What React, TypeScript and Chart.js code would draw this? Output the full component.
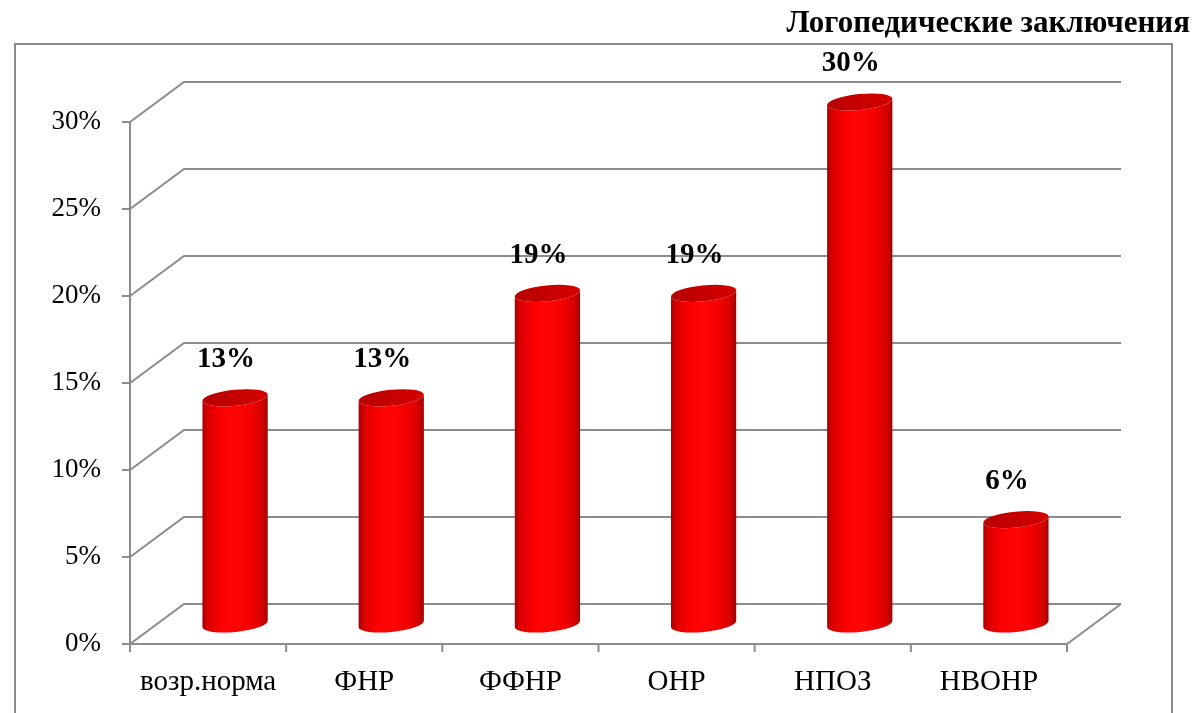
import React, { useEffect, useRef } from 'react';
import { Chart, registerables } from 'chart.js';

Chart.register(...registerables);

const categories = ['возр.норма', 'ФНР', 'ФФНР', 'ОНР', 'НПОЗ', 'НВОНР'];
const values = [13, 13, 19, 19, 30, 6];
const valueLabels = ['13%', '13%', '19%', '19%', '30%', '6%'];
const yTicks = [0, 5, 10, 15, 20, 25, 30];
const chartTitle = 'Логопедические заключения';

const FONT = '"Liberation Serif", "Times New Roman", serif';
const DX = 54;
const DY = -40;
const GRID = '#8c8c8c';

const scene3d = {
  id: 'scene3d',
  beforeDraw(chart: any) {
    const ctx = chart.ctx;
    const { left, right, bottom } = chart.chartArea;
    const ys = chart.scales.y;
    const xs = chart.scales.x;
    ctx.save();
    ctx.fillStyle = '#ffffff';
    ctx.fillRect(0, 0, chart.width, chart.height);
    // outer frame
    ctx.strokeStyle = GRID;
    ctx.lineWidth = 2;
    ctx.strokeRect(15, 44, 1157, 720);
    // title
    ctx.fillStyle = '#000';
    ctx.font = `bold 31px ${FONT}`;
    ctx.textAlign = 'right';
    ctx.textBaseline = 'middle';
    ctx.fillText(chartTitle, 1190, 24);
    // perspective grid
    ctx.strokeStyle = GRID;
    ctx.lineWidth = 2;
    ctx.beginPath();
    for (const v of yTicks) {
      const py = ys.getPixelForValue(v);
      ctx.moveTo(left - 8, py);
      ctx.lineTo(left, py);
      ctx.lineTo(left + DX, py + DY);
      ctx.lineTo(right + DX, py + DY);
    }
    ctx.moveTo(left, ys.getPixelForValue(yTicks[yTicks.length - 1]));
    ctx.lineTo(left, bottom);
    ctx.lineTo(right, bottom);
    ctx.lineTo(right + DX, bottom + DY);
    const n = categories.length;
    const cw = (right - left) / n;
    for (let i = 0; i <= n; i++) {
      const px = i < n ? xs.getPixelForValue(i) - cw / 2 : xs.getPixelForValue(n - 1) + cw / 2;
      ctx.moveTo(px, bottom);
      ctx.lineTo(px, bottom + 8);
    }
    ctx.stroke();
    ctx.restore();
  },
  afterDatasetsDraw(chart: any) {
    const ctx = chart.ctx;
    const { left, right } = chart.chartArea;
    const ys = chart.scales.y;
    const xs = chart.scales.x;
    const n = categories.length;
    const cw = (right - left) / n;
    const rx = cw * 0.21;
    const ry = 8;
    const th = -0.1;
    const c = Math.cos(th);
    const s = Math.sin(th);
    ctx.save();
    values.forEach((v, i) => {
      const cx = xs.getPixelForValue(i) + DX / 2;
      const yTop = ys.getPixelForValue(v) + DY / 2;
      const yBot = ys.getPixelForValue(0) + DY / 2;
      const g = ctx.createLinearGradient(cx - rx, 0, cx + rx, 0);
      g.addColorStop(0, '#a80000');
      g.addColorStop(0.08, '#d80000');
      g.addColorStop(0.3, '#ff0000');
      g.addColorStop(0.5, '#ff0606');
      g.addColorStop(0.75, '#f20000');
      g.addColorStop(0.92, '#d20000');
      g.addColorStop(1, '#a40000');
      ctx.beginPath();
      ctx.moveTo(cx - rx * c, yTop - rx * s);
      ctx.lineTo(cx - rx * c, yBot - rx * s);
      ctx.ellipse(cx, yBot, rx, ry, th, Math.PI, 0, true);
      ctx.lineTo(cx + rx * c, yTop + rx * s);
      ctx.ellipse(cx, yTop, rx, ry, th, 0, Math.PI, false);
      ctx.closePath();
      ctx.fillStyle = g;
      ctx.fill();
      const gt = ctx.createLinearGradient(cx - rx, 0, cx + rx, 0);
      gt.addColorStop(0, '#b80000');
      gt.addColorStop(0.6, '#c80000');
      gt.addColorStop(1, '#d60000');
      ctx.beginPath();
      ctx.ellipse(cx, yTop, rx, ry, th, 0, Math.PI * 2);
      ctx.fillStyle = gt;
      ctx.fill();
      ctx.fillStyle = '#000';
      ctx.font = `bold 29px ${FONT}`;
      ctx.textAlign = 'center';
      ctx.textBaseline = 'middle';
      ctx.fillText(valueLabels[i], cx - 9, yTop - 38);
    });
    ctx.restore();
  },
};

export default function App() {
  const ref = useRef<HTMLCanvasElement>(null);
  useEffect(() => {
    document.body.style.margin = '0';
    const chart = new Chart(ref.current as HTMLCanvasElement, {
      type: 'bar',
      data: {
        labels: categories,
        datasets: [
          {
            data: values,
            backgroundColor: 'rgba(0,0,0,0)',
            borderWidth: 0,
          },
        ],
      },
      options: {
        responsive: false,
        animation: false,
        devicePixelRatio: 1,
        layout: { padding: { left: 0, right: 129, top: 122, bottom: 0 } },
        plugins: {
          legend: { display: false },
          tooltip: { enabled: false },
        },
        scales: {
          x: {
            grid: { display: false },
            border: { display: false },
            ticks: {
              color: '#000',
              font: { family: FONT, size: 29 },
              padding: 13,
              maxRotation: 0,
              autoSkip: false,
            },
            afterFit: (sc: any) => {
              sc.height = 69;
            },
          },
          y: {
            min: 0,
            max: 30,
            grid: { display: false },
            border: { display: false },
            ticks: {
              stepSize: 5,
              color: '#000',
              font: { family: FONT, size: 27 },
              padding: 21,
              callback: (v: any) => v + '%',
            },
            afterFit: (sc: any) => {
              sc.width = 130;
            },
          },
        },
      },
      plugins: [scene3d],
    });
    return () => chart.destroy();
  }, []);
  return (
    <div style={{ width: 1196, height: 713 }}>
      <canvas ref={ref} width={1196} height={713} style={{ display: 'block' }} />
    </div>
  );
}
